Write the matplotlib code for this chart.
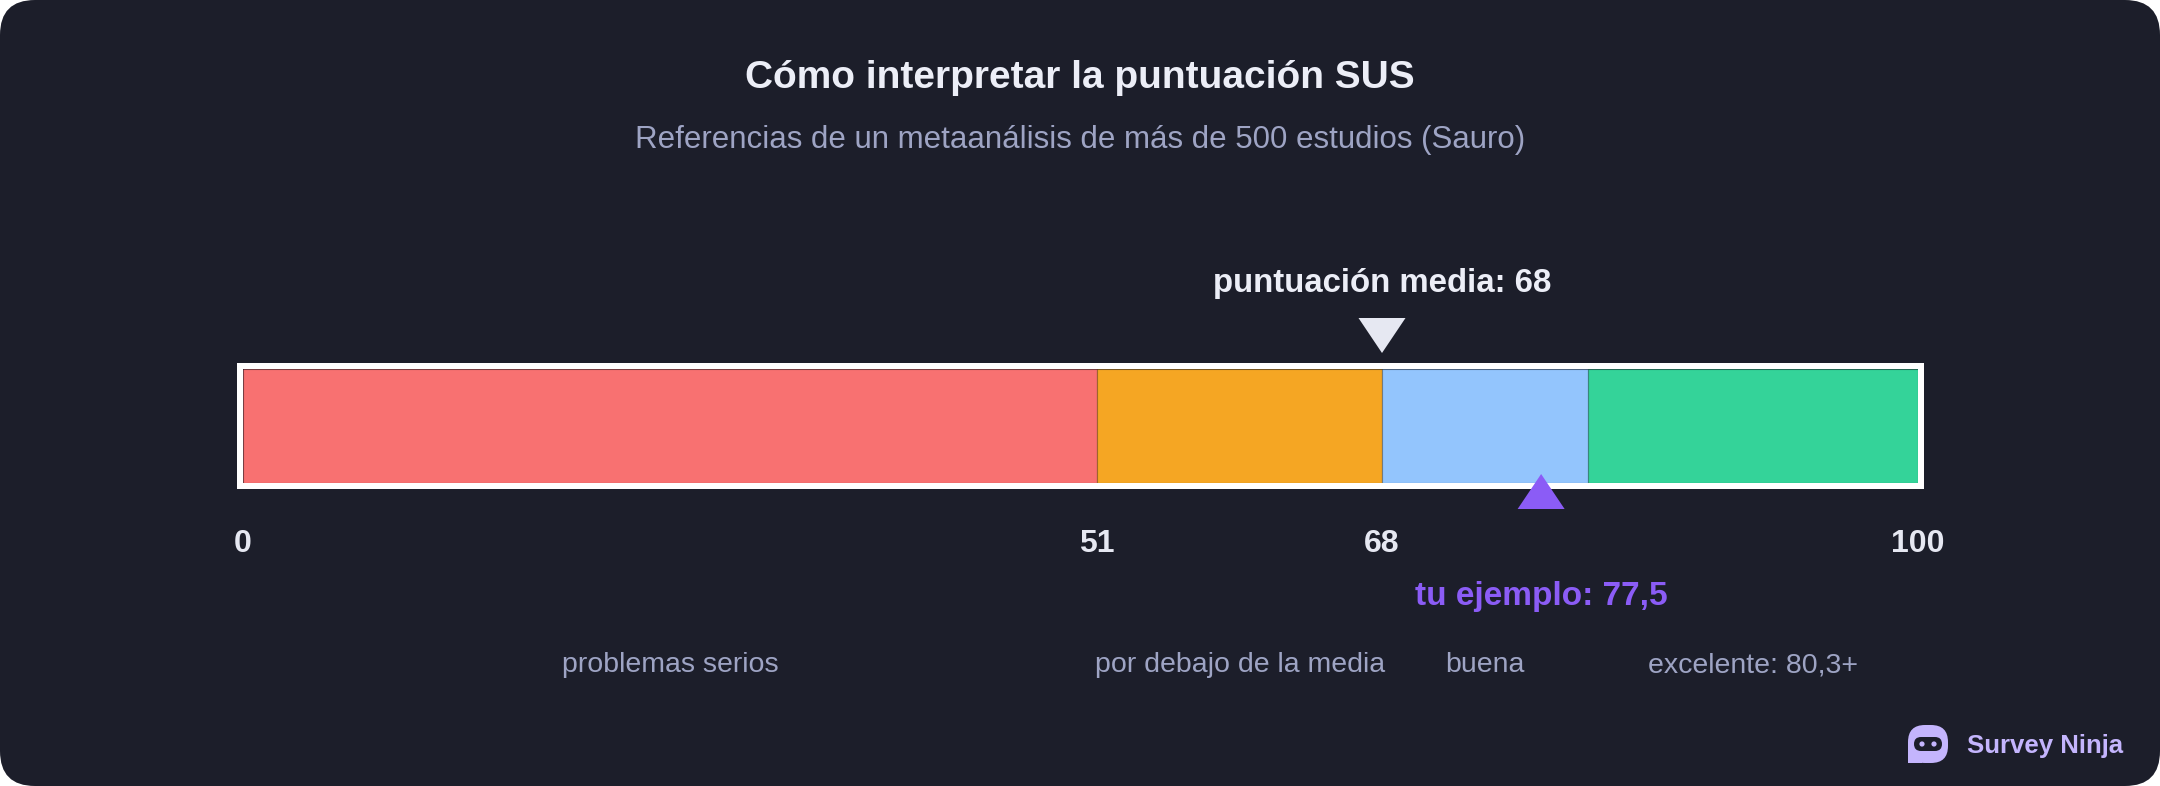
import matplotlib
matplotlib.use("Agg")
import matplotlib.pyplot as plt
from matplotlib.patches import FancyBboxPatch, Rectangle, Circle

plt.rcParams['font.family'] = ['Liberation Sans', 'DejaVu Sans']

# datos
bounds = [0, 51, 68, 80.3, 100]
seg_colors = ["#f87171", "#f5a623", "#93c5fd", "#34d399"]
seg_labels = ["problemas serios", "por debajo de la media", "buena", "excelente: 80,3+"]
tick_values = [0, 51, 68, 100]
tick_labels = ["0", "51", "68", "100"]
mean_score = 68
example_score = 77.5

title = "Cómo interpretar la puntuación SUS"
subtitle = "Referencias de un metaanálisis de más de 500 estudios (Sauro)"

BG = "#1c1e2a"
W, H = 2160, 786
fig = plt.figure(figsize=(W / 100, H / 100), dpi=100)
fig.patch.set_facecolor("white")

# tarjeta con esquinas redondeadas
card = FancyBboxPatch((0, 0), W / 100, H / 100, boxstyle="round,pad=0,rounding_size=0.35",
                      transform=fig.dpi_scale_trans, facecolor=BG, edgecolor="none", zorder=-5)
fig.patches.append(card)

# eje de la barra: x en puntos SUS, y en pixeles (hacia abajo)
ax = fig.add_axes([243 / W, 0, 1675 / W, 1], zorder=2)
ax.set_xlim(0, 100)
ax.set_ylim(H, 0)
ax.axis("off")
ax.patch.set_alpha(0)

px = 100 / 1675  # unidades por pixel
bar_y, bar_h = 426, 114

starts = bounds[:-1]
widths = [b - a for a, b in zip(bounds[:-1], bounds[1:])]
ax.barh([bar_y] * len(starts), widths, left=starts, height=bar_h, color=seg_colors,
        edgecolor=(0, 0, 0, 0.12), linewidth=1, zorder=2)
# marco blanco
ax.add_patch(Rectangle((-3 * px, bar_y - bar_h / 2 - 3), 100 + 6 * px, bar_h + 6,
                       fill=False, edgecolor="white", linewidth=6 * 0.72, zorder=3,
                       joinstyle="miter", clip_on=False))

# etiquetas de la escala
for v, t in zip(tick_values, tick_labels):
    ax.text(v, 552, t, ha="center", va="baseline", fontsize=23, fontweight="bold",
            color="#e6e8f2")

# etiquetas de los tramos
for a, b, lab in zip(bounds[:-1], bounds[1:], seg_labels):
    ax.text((a + b) / 2, 672, lab, ha="center", va="baseline", fontsize=20.5,
            color="#9ea4c4")

# media
hw = 23.5 * px
ax.fill([mean_score - hw, mean_score + hw, mean_score], [318, 318, 353],
        color="#e6e8f2", zorder=4, lw=0)
ax.text(mean_score, 292, f"puntuación media: {mean_score}", ha="center", va="baseline",
        fontsize=23.8, fontweight="bold", color="#eceef7")

# tu ejemplo
ax.fill([example_score - hw, example_score + hw, example_score], [509, 509, 474],
        color="#8b5cf6", zorder=4, lw=0)
ax.text(example_score, 605, "tu ejemplo: " + f"{example_score}".replace(".", ","),
        ha="center", va="baseline", fontsize=24, fontweight="bold", color="#8b5cf6")

# títulos
fig.text(0.5, 1 - 88 / H, title, ha="center", va="baseline", fontsize=28,
         fontweight="bold", color="#eceef7")
fig.text(0.5, 1 - 148 / H, subtitle, ha="center", va="baseline", fontsize=22.5,
         color="#9ea4c4")

# logo
lg = fig.add_axes([0, 0, 1, 1], zorder=3)
lg.set_xlim(0, W)
lg.set_ylim(H, 0)
lg.axis("off")
lg.patch.set_alpha(0)
LAV = "#c4b5fd"
lg.add_patch(FancyBboxPatch((1908, 725), 40, 38, boxstyle="round,pad=0,rounding_size=17",
                            facecolor=LAV, edgecolor="none"))
lg.add_patch(Rectangle((1908, 745), 14, 18, facecolor=LAV, edgecolor="none"))
lg.add_patch(FancyBboxPatch((1914, 737), 28, 14, boxstyle="round,pad=0,rounding_size=7",
                            facecolor=BG, edgecolor="none"))
lg.add_patch(Circle((1922, 744), 2.6, facecolor=LAV, edgecolor="none"))
lg.add_patch(Circle((1934, 744), 2.6, facecolor=LAV, edgecolor="none"))
lg.text(1967, 753, "Survey Ninja", ha="left", va="baseline", fontsize=18.5,
        fontweight="bold", color=LAV)

fig.savefig("out.png", dpi=100, facecolor=fig.get_facecolor())
